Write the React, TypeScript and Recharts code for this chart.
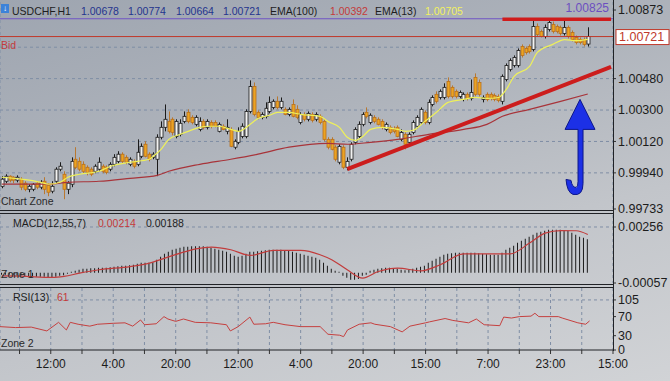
import React from 'react';
import { ComposedChart, Bar, Line, XAxis, YAxis, CartesianGrid, ReferenceLine, ReferenceDot } from 'recharts';

// hourly bar slots (152 bars + empty room up to the last time label)
const slots = Array.from({ length: 158 }, (_, k) => k);
const gridTicks = Array.from({ length: 20 }, (_, k) => 5 + 8 * k);
const timeLabels: Record<number, string> = {
  13: '12:00', 29: '4:00', 45: '20:00', 61: '12:00', 77: '4:00',
  93: '20:00', 109: '15:00', 125: '7:00', 141: '23:00', 157: '15:00',
};

// USDCHF H1 candles: [open, high, low, close]
const candles: [number, number, number, number][] = [
  [0.99863, 0.99921, 0.99852, 0.99904], [0.99892, 0.99932, 0.99881, 0.99921], [0.99921, 0.99926, 0.99886, 0.99898], [0.99915, 0.99921, 0.99881, 0.99898], [0.99898, 0.99926, 0.99886, 0.99915],
  [0.99904, 0.99915, 0.99841, 0.99858], [0.99881, 0.99892, 0.99835, 0.99846], [0.99846, 0.99875, 0.99829, 0.99863], [0.99846, 0.99881, 0.99835, 0.99875], [0.99881, 0.99892, 0.99846, 0.99858],
  [0.99858, 0.99898, 0.99846, 0.99886], [0.99892, 0.99915, 0.99818, 0.99846], [0.99869, 0.99881, 0.99806, 0.99829], [0.99835, 0.99892, 0.99823, 0.99863], [0.99892, 0.99972, 0.99881, 0.99961],
  [0.99961, 1.00001, 0.99949, 0.99978], [0.99932, 0.99949, 0.99789, 0.99846], [0.99846, 0.99892, 0.99818, 0.99881], [0.99875, 1.00029, 0.99858, 1.00006], [1.00018, 1.00087, 0.99961, 0.99972],
  [1.00006, 1.00029, 0.99949, 0.99961], [0.99989, 1.00006, 0.99938, 0.99949], [0.99972, 0.99983, 0.99926, 0.99943], [0.99961, 0.99972, 0.99921, 0.99932], [0.99949, 0.99989, 0.99938, 0.99978],
  [0.99961, 1.00029, 0.99949, 1.00001], [0.99978, 0.99989, 0.99938, 0.99949], [0.99972, 0.99983, 0.99932, 0.99943], [0.99961, 1.00001, 0.99949, 0.99989], [0.99989, 1.00047, 0.99978, 1.00029],
  [1.00006, 1.00064, 0.99995, 1.00047], [1.00047, 1.00058, 0.99995, 1.00006], [1.00029, 1.00041, 0.99989, 1.00001], [0.99989, 1.00029, 0.99978, 1.00018], [1.00006, 1.00018, 0.99966, 0.99978],
  [0.99989, 1.00132, 0.99978, 1.00058], [1.00035, 1.00109, 1.00024, 1.00092], [1.00104, 1.00121, 1.00029, 1.00035], [1.00047, 1.00058, 1.00006, 1.00018], [1.00029, 1.00058, 1.00018, 1.00047],
  [1.00018, 1.00161, 0.99921, 1.00144], [1.00144, 1.00235, 1.00132, 1.00201], [1.00201, 1.00332, 1.00178, 1.00247], [1.00235, 1.00292, 1.00166, 1.00178], [1.00247, 1.00258, 1.00155, 1.00172],
  [1.00149, 1.00247, 1.00138, 1.00235], [1.00161, 1.00247, 1.00149, 1.00224], [1.00235, 1.00292, 1.00224, 1.00264], [1.00287, 1.00304, 1.00224, 1.00235], [1.00258, 1.0027, 1.00218, 1.00229],
  [1.00218, 1.0027, 1.00207, 1.00258], [1.00189, 1.00258, 1.00178, 1.00235], [1.00235, 1.00247, 1.00189, 1.00201], [1.00201, 1.00247, 1.00189, 1.00235], [1.00229, 1.00241, 1.00195, 1.00207],
  [1.00229, 1.00241, 1.00201, 1.00207], [1.00178, 1.00229, 1.00172, 1.00218], [1.00207, 1.00218, 1.00184, 1.00189], [1.00178, 1.00247, 1.00161, 1.00201], [1.00189, 1.00201, 1.00087, 1.00092],
  [1.00087, 1.00132, 1.00075, 1.00121], [1.00115, 1.00201, 1.00104, 1.00178], [1.00149, 1.00224, 1.00138, 1.00207], [1.00149, 1.00304, 1.00138, 1.00292], [1.00292, 1.0047, 1.00281, 1.00435],
  [1.00435, 1.00458, 1.00264, 1.00275], [1.00287, 1.00298, 1.00247, 1.00258], [1.00258, 1.00287, 1.00247, 1.00275], [1.00264, 1.00344, 1.00252, 1.0031], [1.00292, 1.00378, 1.00281, 1.00344],
  [1.00315, 1.00361, 1.00304, 1.0035], [1.0035, 1.00378, 1.00304, 1.00315], [1.00315, 1.00372, 1.00304, 1.0035], [1.00304, 1.00315, 1.0027, 1.00275], [1.00275, 1.00315, 1.00264, 1.00304],
  [1.00332, 1.00361, 1.00258, 1.00264], [1.00304, 1.00327, 1.00247, 1.00258], [1.00229, 1.00287, 1.00218, 1.00275], [1.00275, 1.00287, 1.00235, 1.00247], [1.00247, 1.00292, 1.00235, 1.00281],
  [1.00275, 1.00287, 1.00229, 1.00241], [1.00247, 1.00287, 1.00235, 1.00275], [1.00264, 1.00275, 1.00218, 1.00229], [1.00235, 1.00247, 1.00121, 1.00132], [1.00132, 1.00144, 1.00075, 1.00087],
  [1.00132, 1.00144, 1.00069, 1.00075], [1.00087, 1.00098, 1.00006, 1.00018], [1.00001, 1.00104, 0.99989, 1.00092], [1.00087, 1.00098, 0.99961, 0.99972], [0.99972, 1.00029, 0.99955, 1.00006],
  [1.00018, 1.00115, 1.00006, 1.00104], [1.00115, 1.00201, 1.00104, 1.00189], [1.00149, 1.00235, 1.00138, 1.00218], [1.00218, 1.00287, 1.00207, 1.00275], [1.00287, 1.00315, 1.00252, 1.00264],
  [1.00229, 1.00281, 1.00218, 1.0027], [1.00258, 1.0027, 1.00224, 1.00235], [1.00247, 1.00258, 1.00212, 1.00218], [1.00235, 1.00247, 1.00189, 1.00201], [1.00189, 1.00229, 1.00178, 1.00218],
  [1.00201, 1.00212, 1.00161, 1.00172], [1.00189, 1.00207, 1.00166, 1.00178], [1.00201, 1.00212, 1.00144, 1.00149], [1.00132, 1.00189, 1.00121, 1.00172], [1.00161, 1.00172, 1.00075, 1.00104],
  [1.00115, 1.00172, 1.00104, 1.00161], [1.00172, 1.00241, 1.00161, 1.00229], [1.00207, 1.0027, 1.00195, 1.00258], [1.00229, 1.00315, 1.00218, 1.00304], [1.00287, 1.00298, 1.00218, 1.00229],
  [1.00229, 1.00361, 1.00218, 1.00344], [1.00332, 1.00384, 1.00321, 1.00372], [1.0039, 1.00407, 1.00338, 1.0035], [1.00372, 1.00418, 1.00361, 1.00407], [1.00372, 1.00453, 1.00361, 1.0043],
  [1.00464, 1.00487, 1.00367, 1.00378], [1.0043, 1.00441, 1.00367, 1.00378], [1.00407, 1.00418, 1.00367, 1.00378], [1.00378, 1.00412, 1.00367, 1.00401], [1.00361, 1.00401, 1.0035, 1.0039],
  [1.0039, 1.00401, 1.00355, 1.00367], [1.00367, 1.00475, 1.00355, 1.00401], [1.00487, 1.0051, 1.00378, 1.0039], [1.00458, 1.00475, 1.00378, 1.0039], [1.00361, 1.00384, 1.00344, 1.00372],
  [1.0039, 1.00401, 1.0035, 1.00361], [1.0039, 1.00401, 1.00355, 1.00367], [1.00384, 1.00395, 1.0035, 1.00361], [1.00378, 1.0039, 1.00344, 1.00355], [1.0035, 1.00504, 1.00332, 1.00493],
  [1.00475, 1.00567, 1.00464, 1.00555], [1.00533, 1.00596, 1.00521, 1.00584], [1.00555, 1.00613, 1.00544, 1.00601], [1.00555, 1.00653, 1.00544, 1.00641], [1.00664, 1.00676, 1.00601, 1.00613],
  [1.00653, 1.00664, 1.00618, 1.0063], [1.00664, 1.00676, 1.00624, 1.00636], [1.00647, 1.00819, 1.00636, 1.00779], [1.00779, 1.00796, 1.00721, 1.00733], [1.0075, 1.00761, 1.00716, 1.00721],
  [1.00721, 1.0079, 1.0071, 1.00773], [1.00761, 1.00819, 1.0075, 1.00801], [1.0079, 1.00807, 1.00739, 1.0075], [1.00779, 1.0079, 1.00739, 1.0075], [1.00773, 1.00784, 1.00727, 1.00739],
  [1.00739, 1.00819, 1.00727, 1.00773], [1.00773, 1.00784, 1.0071, 1.00721], [1.00744, 1.00756, 1.00693, 1.00704], [1.00716, 1.00727, 1.00676, 1.00687], [1.00704, 1.00716, 1.00676, 1.00687],
  [1.00704, 1.00716, 1.00664, 1.00676], [1.00678, 1.00774, 1.00664, 1.00721],
];

// moving averages read at bar positions: [bar, value]
const ema13: [number, number][] = [
  [0, 0.99915], [5, 0.99904], [10, 0.99886], [12, 0.99875], [15, 0.99886], [17, 0.99915], [20, 0.99932], [25, 0.99949],
  [28, 0.99978], [33, 1.00001], [38, 1.00018], [39, 1.00035], [41, 1.00075], [43, 1.00132], [46, 1.00161], [48, 1.00178],
  [51, 1.00201], [53, 1.00207], [56, 1.00207], [59, 1.00189], [61, 1.00178], [64, 1.00218], [66, 1.00252], [69, 1.0027],
  [71, 1.00287], [74, 1.00287], [77, 1.00275], [82, 1.00264], [84, 1.00235], [87, 1.00201], [89, 1.00144], [91, 1.00126],
  [93, 1.00149], [95, 1.00189], [98, 1.00201], [102, 1.00189], [104, 1.00178], [106, 1.00184], [109, 1.00235], [112, 1.00287],
  [115, 1.00344], [119, 1.00361], [122, 1.00372], [125, 1.00367], [128, 1.00372], [130, 1.00418], [132, 1.00493], [136, 1.0055],
  [138, 1.0063], [142, 1.00676], [145, 1.00704], [148, 1.00698], [151, 1.00705],
];
const ema100: [number, number][] = [
  [0, 0.99875], [12, 0.99875], [17, 0.99886], [25, 0.99892], [33, 0.99909], [40, 0.99926], [43, 0.99949], [51, 0.99989],
  [59, 1.00018], [66, 1.00047], [74, 1.00087], [84, 1.00109], [89, 1.00104], [95, 1.00115], [102, 1.00132], [110, 1.00161],
  [119, 1.00189], [125, 1.00218], [129, 1.00264], [136, 1.00304], [144, 1.0035], [151, 1.00392],
];

// MACD(12,55,7) histogram, one value per bar
const macdHist: number[] = [
  -0.00011, -0.00011, -0.00011, -0.00014, -0.00017, -0.00017, -0.0002, -0.00022, -0.00022, -0.00022,
  -0.00022, -0.00022, -0.00025, -0.00025, -0.00022, -0.00017, -0.00014, -0.00006, 0.00006, 0.00011,
  0.00017, 0.00022, 0.00022, 0.00025, 0.00025, 0.00028, 0.00028, 0.00028, 0.00031, 0.00034,
  0.00036, 0.00039, 0.00039, 0.00042, 0.00045, 0.0005, 0.00056, 0.00056, 0.00056, 0.00059,
  0.00073, 0.00089, 0.00106, 0.00117, 0.00129, 0.00134, 0.0014, 0.00145, 0.00145, 0.00148,
  0.00148, 0.00148, 0.00148, 0.00145, 0.0014, 0.00134, 0.00129, 0.00123, 0.00117, 0.00106,
  0.00095, 0.00089, 0.00095, 0.00106, 0.00117, 0.00117, 0.0012, 0.00123, 0.00126, 0.00129,
  0.00129, 0.00129, 0.00129, 0.00126, 0.00123, 0.00117, 0.00112, 0.00106, 0.00101, 0.00095,
  0.00089, 0.00084, 0.00073, 0.00056, 0.00039, 0.00022, 0.00011, 0.00006, -0.00017, -0.00028,
  -0.00039, -0.00039, -0.00034, -0.00017, -0.00011, 0.00011, 0.00017, 0.00022, 0.00025, 0.00028,
  0.00028, 0.00025, 0.00022, 0.00017, 0.00014, 0.00017, 0.00022, 0.00028, 0.00034, 0.00039,
  0.00056, 0.00067, 0.00078, 0.00089, 0.00101, 0.00106, 0.00109, 0.00112, 0.00112, 0.00112,
  0.00112, 0.00112, 0.00112, 0.00109, 0.00106, 0.00103, 0.00101, 0.00101, 0.00101, 0.00112,
  0.00129, 0.0014, 0.00151, 0.00168, 0.00179, 0.0019, 0.00201, 0.00212, 0.00224, 0.00229,
  0.00235, 0.0024, 0.0024, 0.0024, 0.0024, 0.00238, 0.00235, 0.00224, 0.00212, 0.00201,
  0.00196, 0.00188,
];
const macdSignal: [number, number][] = [
  [0, -0.00017], [5, -0.00019], [13, -0.00026], [16, -0.0002], [20, -0.00002], [25, 0.00017], [33, 0.00035], [38, 0.00054],
  [42, 0.00082], [46, 0.0011], [50, 0.00134], [54, 0.00144], [59, 0.00129], [64, 0.00097], [70, 0.00125], [77, 0.00125],
  [82, 0.00101], [85, 0.00073], [89, 0.00017], [93, -0.0003], [97, 0.00007], [102, 0.00026], [108, 0.00011], [113, 0.00045],
  [119, 0.00106], [131, 0.00106], [136, 0.00166], [140, 0.00222], [144, 0.00236], [148, 0.00235], [151, 0.00214],
];

// RSI(13)
const rsi13: [number, number][] = [
  [0, 49], [4, 47], [8, 48], [12, 40], [15, 58], [17, 42], [18, 58], [20, 54], [23, 50], [25, 54], [29, 56], [32, 57],
  [34, 50], [36, 63], [37, 53], [40, 55], [42, 70], [43, 65], [45, 60], [47, 65], [50, 58], [54, 57], [58, 53], [59, 40],
  [61, 49], [64, 69], [65, 54], [68, 55], [70, 58], [73, 53], [77, 49], [82, 49], [84, 33], [87, 31], [88, 28], [89, 42],
  [92, 54], [95, 57], [96, 54], [100, 49], [103, 38], [105, 50], [109, 57], [110, 59], [114, 66], [116, 62], [120, 57],
  [122, 65], [124, 53], [128, 51], [129, 69], [131, 67], [133, 70], [136, 71], [137, 77], [138, 70], [143, 70], [144, 67],
  [148, 57], [150, 54], [151, 61],
];

const priceTicks = [0.99733, 0.9994, 1.0012, 1.003, 1.0048, 1.00873];
const priceGrid = [0.9994, 1.0012, 1.003, 1.0048, 1.0066];
const macdTicks = [-0.00057, 0.00256];
const rsiTicks = [0, 30, 70, 105];

const fastMap = new Map(ema13);
const slowMap = new Map(ema100);
const sigMap = new Map(macdSignal);
const rsiMap = new Map(rsi13);

const rows = slots.map((i) => {
  const k = candles[i];
  return {
    i,
    ohlc: k ?? null,
    range: k ? [k[2], k[1]] : null,
    fast: fastMap.get(i) ?? null,
    slow: slowMap.get(i) ?? null,
    hist: macdHist[i] ?? null,
    sig: sigMap.get(i) ?? null,
    rsi: rsiMap.get(i) ?? null,
  };
});

const AX_FONT = '"Liberation Sans Narrow", "Liberation Sans", sans-serif';
const TX_FONT = '"Liberation Sans", Arial, sans-serif';
const GRID = '#7f8ea5';
const axTick = { fill: '#1c1c1c', fontSize: 12.5, fontFamily: AX_FONT };

function Candle(props: any) {
  const { x, y, width, height, payload } = props;
  if (!payload || !payload.ohlc) return null;
  const [o, h, l, c] = payload.ohlc;
  const top = Math.min(y, y + height);
  const span = Math.abs(height);
  const py = (v: number) => top + ((h - v) / (h - l || 1)) * span;
  const cx = Math.round(x + width / 2) + 0.5;
  const bull = c >= o;
  const b0 = py(Math.max(o, c));
  const b1 = py(Math.min(o, c));
  return (
    <g>
      <line x1={cx} x2={cx} y1={top} y2={top + span} stroke={bull ? '#1a1a1a' : '#b9782f'} strokeWidth={1} />
      <rect x={cx - 1.5} y={b0} width={3} height={Math.max(1, b1 - b0)}
        fill={bull ? '#f2f2f2' : '#eba323'} stroke={bull ? '#1a1a1a' : '#b9701d'} strokeWidth={0.8} />
    </g>
  );
}

function BidTag(props: any) {
  const vb = props.viewBox || {};
  const right = vb.x + vb.width;
  return (
    <g>
      <text x={vb.x + 1} y={vb.y + 12} fill="#c43c3c" fontSize={10.5} fontFamily={TX_FONT}>Bid</text>
      <rect x={right + 3} y={vb.y - 7} width={53} height={15} fill="#ffffff" stroke="#c0392b" />
      <text x={right + 6} y={vb.y + 4.5} fill="#c0392b" fontSize={12.5} fontFamily={AX_FONT}>1.00721</text>
    </g>
  );
}

function AskTag(props: any) {
  const vb = props.viewBox || {};
  return (
    <text x={vb.x + vb.width - 4} y={vb.y - 7} textAnchor="end" fill="#6c4fc0" fontSize={12} fontFamily={AX_FONT}>1.00825</text>
  );
}

function BlueArrow(props: any) {
  const { cx, cy } = props;
  if (cx == null || cy == null) return null;
  const d = `M${cx} ${cy} L${cx + 15} ${cy + 30} L${cx + 3} ${cy + 30} L${cx + 3} ${cy + 84}
    Q${cx + 3} ${cy + 97} ${cx - 7} ${cy + 95} Q${cx - 13} ${cy + 93} ${cx - 14} ${cy + 80}
    L${cx - 9} ${cy + 81} Q${cx - 8} ${cy + 88} ${cx - 4} ${cy + 88} Q${cx - 2} ${cy + 88} ${cx - 2} ${cy + 82}
    L${cx - 2} ${cy + 30} L${cx - 15} ${cy + 30} Z`;
  return <path d={d} fill="#1c30e6" stroke="#0d178a" strokeWidth={1} />;
}

const hiddenX = (
  <XAxis dataKey="i" type="category" ticks={gridTicks} interval={0} tick={false} tickLine={false} axisLine={false} height={0} />
);

const Txt = ({ x, y, c = '#1e1e1e', children }: any) => (
  <span style={{ position: 'absolute', left: x, top: y, color: c, fontSize: 10.5, fontFamily: TX_FONT, lineHeight: '12px', whiteSpace: 'nowrap' }}>
    {children}
  </span>
);

const HLine = ({ y }: { y: number }) => (
  <div style={{ position: 'absolute', left: 0, top: y, width: 613, height: 1, background: '#202226' }} />
);

export default function App() {
  return (
    <div style={{ position: 'absolute', left: 0, top: 0, width: 670, height: 381, overflow: 'hidden',
      background: 'linear-gradient(165deg, #9ea5b0 0%, #aeb3bb 35%, #c2c5ca 65%, #d1d3d6 100%)' }}>
      <style>{'.recharts-surface{overflow:visible}'}</style>
      <div style={{ position: 'absolute', left: 0, top: 0 }}>
        <ComposedChart width={670} height={211} data={rows} margin={{ top: 2, right: 0, bottom: 2, left: 0 }}>
          <CartesianGrid stroke={GRID} strokeDasharray="3 3" horizontalValues={priceGrid} />
          {hiddenX}
          <YAxis orientation="right" width={57} type="number" domain={[0.99733, 1.00919]} allowDataOverflow
            ticks={priceTicks} interval={0} tickFormatter={(v: number) => v.toFixed(5)}
            tick={axTick} tickSize={3} tickLine={{ stroke: '#333' }} axisLine={false} />
          <ReferenceLine y={1.00823} stroke="#6f55c4" strokeWidth={1} label={<AskTag />} />
          <ReferenceLine y={1.00721} stroke="#c0392b" strokeWidth={1} label={<BidTag />} />
          <Bar dataKey="range" shape={(p: any) => <Candle {...p} />} barSize={4} isAnimationActive={false} />
          <Line dataKey="slow" type="monotone" stroke="#a8343a" strokeWidth={1.2} dot={false} connectNulls isAnimationActive={false} />
          <Line dataKey="fast" type="monotone" stroke="#eef05a" strokeWidth={1.2} dot={false} connectNulls isAnimationActive={false} />
          <ReferenceLine segment={[{ x: 129, y: 1.0082 }, { x: 157, y: 1.0082 }]} stroke="#d01c1c" strokeWidth={3.5} />
          <ReferenceLine segment={[{ x: 89, y: 0.99961 }, { x: 157, y: 1.00547 }]} stroke="#cc1d1d" strokeWidth={4} />
          <ReferenceDot x={149} y={1.00361} r={0} ifOverflow="visible" shape={(p: any) => <BlueArrow {...p} />} />
        </ComposedChart>
      </div>

      <div style={{ position: 'absolute', left: 0, top: 213 }}>
        <ComposedChart width={670} height={72} data={rows} margin={{ top: 2, right: 0, bottom: 2, left: 0 }}>
          <CartesianGrid stroke={GRID} strokeDasharray="3 3" horizontalValues={[0.00256]} />
          {hiddenX}
          <YAxis orientation="right" width={57} type="number" domain={[-0.00057, 0.00323]} allowDataOverflow
            ticks={macdTicks} interval={0} tickFormatter={(v: number) => v.toFixed(5)}
            tick={axTick} tickSize={3} tickLine={{ stroke: '#333' }} axisLine={false} />
          <Bar dataKey="hist" fill="#1b1b1b" barSize={1} isAnimationActive={false} />
          <Line dataKey="sig" type="monotone" stroke="#c23c3c" strokeWidth={1.2} dot={false} connectNulls isAnimationActive={false} />
        </ComposedChart>
      </div>

      <div style={{ position: 'absolute', left: 0, top: 286 }}>
        <ComposedChart width={670} height={95} data={rows} margin={{ top: 2, right: 0, bottom: 2, left: 0 }}>
          <CartesianGrid stroke={GRID} strokeDasharray="3 3" horizontalValues={[105]} />
          <XAxis dataKey="i" type="category" ticks={gridTicks} interval={0} height={29}
            tickFormatter={(v: number) => timeLabels[v] ?? ''} tick={{ ...axTick, fontSize: 12 }}
            tickSize={4} tickMargin={5} tickLine={{ stroke: '#333' }} axisLine={{ stroke: '#202226' }} />
          <YAxis orientation="right" width={57} type="number" domain={[0, 130]} allowDataOverflow
            ticks={rsiTicks} interval={0} tick={axTick} tickSize={3} tickLine={{ stroke: '#333' }} axisLine={false} />
          <Line dataKey="rsi" type="linear" stroke="#c5403f" strokeWidth={1} dot={false} connectNulls isAnimationActive={false} />
        </ComposedChart>
      </div>

      <HLine y={210} />
      <HLine y={213} />
      <HLine y={284} />
      <HLine y={287} />
      <div style={{ position: 'absolute', left: 613, top: 0, width: 1, height: 351, background: '#202226' }} />

      <div style={{ position: 'absolute', left: 1, top: 4, width: 8, height: 9, background: '#3d82d8', color: '#fff', fontSize: 8, lineHeight: '9px', textAlign: 'center' }}>↓</div>
      <Txt x={12} y={5}>USDCHF,H1</Txt>
      <Txt x={81} y={5} c="#24348e">1.00678</Txt>
      <Txt x={128} y={5} c="#24348e">1.00774</Txt>
      <Txt x={176} y={5} c="#24348e">1.00664</Txt>
      <Txt x={223} y={5} c="#24348e">1.00721</Txt>
      <Txt x={270} y={5}>EMA(100)</Txt>
      <Txt x={330} y={5} c="#c43a3a">1.00392</Txt>
      <Txt x={375} y={5}>EMA(13)</Txt>
      <Txt x={425} y={5} c="#f2f25e">1.00705</Txt>
      <Txt x={1} y={195} c="#2a2a2a">Chart Zone</Txt>
      <Txt x={13} y={217}>MACD(12,55,7)</Txt>
      <Txt x={98} y={217} c="#c43a3a">0.00214</Txt>
      <Txt x={146} y={217}>0.00188</Txt>
      <Txt x={1} y={268} c="#2a2a2a">Zone 1</Txt>
      <Txt x={13} y={291}>RSI(13)</Txt>
      <Txt x={57} y={291} c="#c43a3a">61</Txt>
      <Txt x={1} y={337} c="#2a2a2a">Zone 2</Txt>
    </div>
  );
}
